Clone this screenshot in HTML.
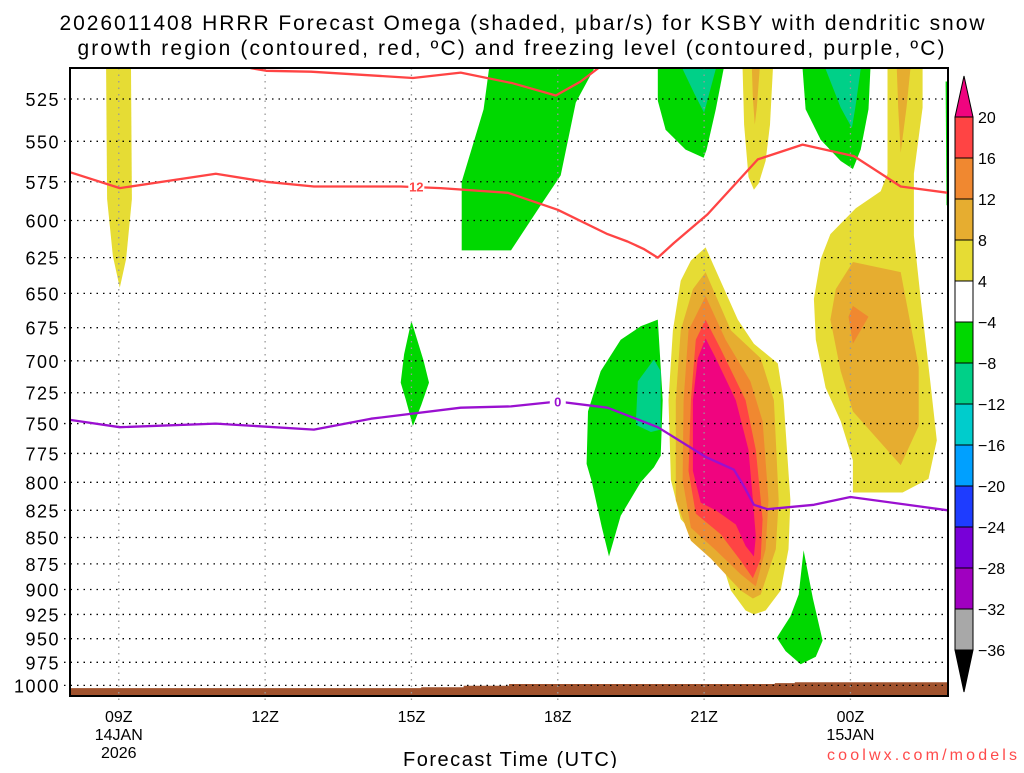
<!DOCTYPE html>
<html><head><meta charset="utf-8">
<style>
html,body{margin:0;padding:0;background:#fff;}
body{width:1024px;height:768px;overflow:hidden;font-family:"Liberation Sans",sans-serif;}
svg text{font-family:"Liberation Sans",sans-serif;}
</style></head>
<body>
<svg id="chart" width="1024" height="768" viewBox="0 0 1024 768" xmlns="http://www.w3.org/2000/svg">
<defs><clipPath id="pc"><rect x="70" y="68" width="878" height="628"/></clipPath></defs>
<text x="522" y="30" font-size="21" text-anchor="middle" fill="#000" textLength="925" lengthAdjust="spacing">2026011408 HRRR Forecast Omega (shaded, μbar/s) for KSBY with dendritic snow</text>
<text x="511" y="55" font-size="21" text-anchor="middle" fill="#000" textLength="867" lengthAdjust="spacing">growth region (contoured, red, ºC) and freezing level (contoured, purple, ºC)</text>
<g id="fills" clip-path="url(#pc)"></g>
<g id="grid"></g>
<g id="lines" clip-path="url(#pc)"></g>
<g id="axes"></g>
<g id="cbar"></g>
<text x="510" y="766" font-size="20" text-anchor="middle" fill="#000" textLength="214" lengthAdjust="spacing">Forecast Time (UTC)</text>
<text x="922" y="760" font-size="16" text-anchor="middle" fill="#ff4b4b" textLength="190" lengthAdjust="spacing">coolwx.com/models</text>
</svg>
<script>
// ---- data ----
const pressureTicks = [525,550,575,600,625,650,675,700,725,750,775,800,825,850,875,900,925,950,975,1000];
const timeTickHours = [1,4,7,10,13,16];
const timeTickLabels = [["09Z","14JAN","2026"],["12Z"],["15Z"],["18Z"],["21Z"],["00Z","15JAN"]];
const cbarLabels = ["20","16","12","8","4","−4","−8","−12","−16","−20","−24","−28","−32","−36"];
const cbarColors = ["#ff4444","#f08830","#e6ad30","#e6dc34","#ffffff","#00d800","#00d088","#00cccc","#00a0ff","#1e3cff","#7800d8","#a000c0","#a8a8a8"];
// shaded regions: [hour since 08Z, pressure hPa]
const yellowLeft = [[0.74,508],[1.25,508],[1.27,586],[1.15,626],[1.02,646],[0.88,624],[0.76,586]];
const green15z = [[7.0,670],[7.25,700],[7.36,717],[7.2,735],[7.03,752],[6.88,730],[6.78,717],[6.85,695]];
const greenTopMid = [[8.59,508],[10.74,508],[10.37,527],[10.06,571],[9.65,590],[9.04,620],[8.03,620],[8.03,575],[8.48,531]];
const greenTop21 = [[12.05,508],[13.40,508],[13.24,531],[13.05,555],[12.99,560],[12.62,555],[12.21,543],[12.05,526]];
const tealTop21 = [[12.56,508],[13.24,508],[13.0,533],[12.8,522]];
const yellowTop22 = [[13.79,508],[14.41,508],[14.35,540],[14.26,562],[14.12,576],[14.02,580],[13.91,572],[13.82,540]];
const orangeTop22 = [[13.98,508],[14.14,508],[14.08,530],[14.04,540],[14.0,525]];
const greenTop00 = [[15.02,508],[16.41,508],[16.37,531],[16.21,555],[16.05,567],[15.8,562],[15.39,549],[15.08,531]];
const tealTop00 = [[15.49,508],[16.21,508],[16.1,530],[16.03,542],[15.8,530]];
const yellowRight = [[16.76,508],[17.48,508],[17.48,530],[17.3,570],[17.3,610],[17.44,654],[17.64,717],[17.77,764],[17.6,797],[17.07,809],[16.05,809],[16.05,781],[15.8,748],[15.49,721],[15.29,684],[15.25,654],[15.39,626],[15.59,609],[16.11,592],[16.62,581],[16.76,570]];
const orangeColRight = [[16.95,508],[17.23,508],[17.15,530],[17.03,557],[16.98,530]];
const orangeRight = [[16.05,628],[17.03,635],[17.4,705],[17.4,752],[17.03,785],[16.05,740],[15.8,708],[15.59,669],[15.7,647]];
const darkOrangeRight = [[16.05,659],[16.37,667],[16.05,687],[15.96,667]];
const greenEdge = [[17.95,515],[18,515],[18,590],[17.97,590]];
const greenMid = [[12.05,669],[12.15,731],[12.11,777],[11.97,787],[11.7,800],[11.29,830],[11.05,868],[10.9,840],[10.7,800],[10.59,784],[10.62,740],[10.88,708],[11.29,684],[11.7,674]];
const tealMid = [[11.97,699],[12.11,708],[12.11,755],[11.91,757],[11.6,751],[11.64,716]];
const coreYellow = [[13.03,618],[13.69,669],[14.02,687],[14.51,702],[14.63,731],[14.77,816],[14.73,861],[14.57,901],[14.26,921],[14.02,925],[13.85,921],[13.55,901],[13.34,870],[12.93,853],[12.52,833],[12.32,798],[12.27,731],[12.36,677],[12.52,641],[12.73,627]];
const coreOrange8 = [[13.03,635],[13.55,677],[14.16,698],[14.43,731],[14.53,816],[14.47,861],[14.16,905],[14.0,909],[13.75,901],[13.14,870],[12.73,853],[12.42,816],[12.42,731],[12.52,677],[12.77,647]];
const coreOrange12 = [[13.03,652],[13.44,684],[13.95,716],[14.2,748],[14.32,816],[14.26,861],[14.06,897],[13.75,885],[13.24,862],[12.73,841],[12.56,798],[12.58,731],[12.68,677]];
const coreRed = [[13.03,669],[13.34,691],[13.85,731],[14.06,772],[14.2,833],[14.16,870],[14.0,889],[13.75,872],[13.34,847],[12.83,828],[12.68,790],[12.73,731],[12.83,684]];
const coreMagenta = [[13.03,683],[13.24,698],[13.65,731],[13.91,772],[14.0,816],[14.06,849],[14.02,868],[13.85,858],[13.65,838],[13.24,825],[12.93,818],[12.77,790],[12.77,731],[12.87,698]];
const greenLow = [[15.04,862],[15.23,909],[15.43,952],[15.29,969],[14.98,977],[14.67,963],[14.49,949],[14.77,927],[14.94,905]];
// contour lines
const redTop = [[3.7,507.5],[4.02,509],[4.94,509.5],[7.03,513],[8.01,510],[9.08,516],[9.96,523],[10.47,515],[10.9,506]];
const red12 = [[0,569],[1.02,579],[2.99,570],[4.02,575],[5.0,578],[6.78,578],[7.6,579],[8.98,582],[10.0,593],[11.02,609],[11.43,614],[11.76,619],[12.05,625],[12.38,615],[13.07,596],[14.1,561],[15.02,552],[16.07,559],[17.03,578],[18,582]];
const purple0 = [[0,747],[1.02,753],[2.99,750],[5.0,755],[6.17,746],[8.01,737],[9.04,736],[10.0,732],[11.02,737],[12.05,753],[13.03,778],[13.61,789],[13.81,803],[14.02,820],[14.3,824],[15.25,820],[16.0,813],[18,825]];
const groundHours = [0,7.2,7.2,8.07,8.07,9.0,9.0,14.45,14.45,14.86,14.86,18];
const groundP = [1003,1003,1002,1002,1000.5,1000.5,998.5,998.5,997.5,997.5,996.5,996.5];

// ---- axes functions ----
const X0=70, X1=948, Y0=68, Y1=696, H0=0, H1=18;
const PREF=525, YREF=99, KY=910;
function xs(h){return X0+(h-H0)/(H1-H0)*(X1-X0);}
function ys(p){return YREF+Math.log(p/PREF)*KY;}
const NS="http://www.w3.org/2000/svg";
function mk(tag,parent,attrs){const e=document.createElementNS(NS,tag);for(const k in attrs)e.setAttribute(k,attrs[k]);parent.appendChild(e);return e;}
function pts(a){return a.map(d=>xs(d[0]).toFixed(1)+","+ys(d[1]).toFixed(1)).join(" ");}

const fillsG=document.getElementById('fills');
const shapes=[
 ['yellow-left',yellowLeft,'#e6dc34'],['green-15z',green15z,'#00d800'],['green-top-mid',greenTopMid,'#00d800'],
 ['green-top-21z',greenTop21,'#00d800'],['teal-top-21z',tealTop21,'#00d088'],['yellow-top-22z',yellowTop22,'#e6dc34'],
 ['orange-top-22z',orangeTop22,'#e6ad30'],['green-top-00z',greenTop00,'#00d800'],['teal-top-00z',tealTop00,'#00d088'],
 ['yellow-right',yellowRight,'#e6dc34'],['orange-column-right',orangeColRight,'#e6ad30'],['orange-right',orangeRight,'#e6ad30'],
 ['dark-orange-right',darkOrangeRight,'#f08830'],['green-edge',greenEdge,'#00d800'],['green-mid',greenMid,'#00d800'],
 ['teal-mid',tealMid,'#00d088'],['core-yellow',coreYellow,'#e6dc34'],['core-orange-8',coreOrange8,'#e6ad30'],
 ['core-orange-12',coreOrange12,'#f08830'],['core-red',coreRed,'#ff4444'],['core-magenta',coreMagenta,'#f0047f'],
 ['green-low',greenLow,'#00d800']
];
shapes.forEach(s=>{
 const el=mk('polygon',fillsG,{points:pts(s[1]),fill:s[2]});
 
 
});
const gp=groundHours.map((h,i)=>[h,groundP[i]]);
gp.push([18,1011],[0,1011]);
const groundEl=mk('polygon',fillsG,{points:pts(gp),fill:'#a0522d'});



// grid
const gridG=document.getElementById('grid');
pressureTicks.forEach(p=>{
 const l=mk('line',gridG,{x1:X0-6,x2:X1,y1:ys(p),y2:ys(p),stroke:'#000','stroke-width':1.3,'stroke-dasharray':'1.5 5'});
 
 
});
timeTickHours.forEach(h=>{
 const l=mk('line',gridG,{x1:xs(h),x2:xs(h),y1:Y0,y2:Y1+6,stroke:'#999','stroke-width':1.3,'stroke-dasharray':'1.5 5'});
 
 
});

// lines
const linesG=document.getElementById('lines');
[['red-top-contour',redTop,'#ff4444'],['red-12-contour',red12,'#ff4444'],['purple-0-contour',purple0,'#9a10d0']].forEach(s=>{
 const el=mk('polyline',linesG,{points:pts(s[1]),fill:'none',stroke:s[2],'stroke-width':2.3,'stroke-linejoin':'round'});
 
 
});
function lab(txt,h,p,col,name){
 const x=xs(h),y=ys(p);
 const r=mk('rect',linesG,{x:x-8,y:y-7,width:16,height:14,fill:'#fff'});
 
 
 const t=mk('text',linesG,{x:x,y:y+5,'font-size':13,'font-weight':'bold','text-anchor':'middle',fill:col});
 t.textContent=txt;
 
 
}
lab('12',7.1,578,'#ff4444','red-contour-label');
lab('0',10.0,732,'#9a10d0','purple-contour-label');

// axes
const axesG=document.getElementById('axes');
const frameEl=mk('rect',axesG,{x:X0,y:Y0,width:X1-X0,height:Y1-Y0,fill:'none',stroke:'#000','stroke-width':2});


pressureTicks.forEach(p=>{
 const t=mk('text',axesG,{x:60,y:ys(p)+7,'font-size':18,'text-anchor':'end','letter-spacing':'1.5',fill:'#000'});
 t.textContent=String(p);
 
 
});
timeTickHours.forEach((h,i)=>{
 timeTickLabels[i].forEach((s,j)=>{
  const t=mk('text',axesG,{x:xs(h),y:722+j*18,'font-size':16,'text-anchor':'middle',fill:'#000'});
  t.textContent=s;
  
  
 });
});

// colorbar
const cbG=document.getElementById('cbar');
const CX=955, CW=18, CT=117, CS=41;
const cbTop=mk('polygon',cbG,{points:`${CX},${CT} ${CX+CW},${CT} ${CX+CW/2},${CT-41}`,fill:'#f0047f',stroke:'#000','stroke-width':1});


cbarColors.forEach((c,i)=>{
 const r=mk('rect',cbG,{x:CX,y:CT+i*CS,width:CW,height:CS,fill:c,stroke:'#000','stroke-width':1});
 
 
});
const cbBot=CT+cbarColors.length*CS;
const cbArrow=mk('polygon',cbG,{points:`${CX},${cbBot} ${CX+CW},${cbBot} ${CX+CW/2},${cbBot+42}`,fill:'#000',stroke:'#000','stroke-width':1});


cbarLabels.forEach((s,i)=>{
 const t=mk('text',cbG,{x:978,y:CT+i*CS+6,'font-size':16,fill:'#000'});
 t.textContent=s;
 
 
});
</script>
</body></html>
